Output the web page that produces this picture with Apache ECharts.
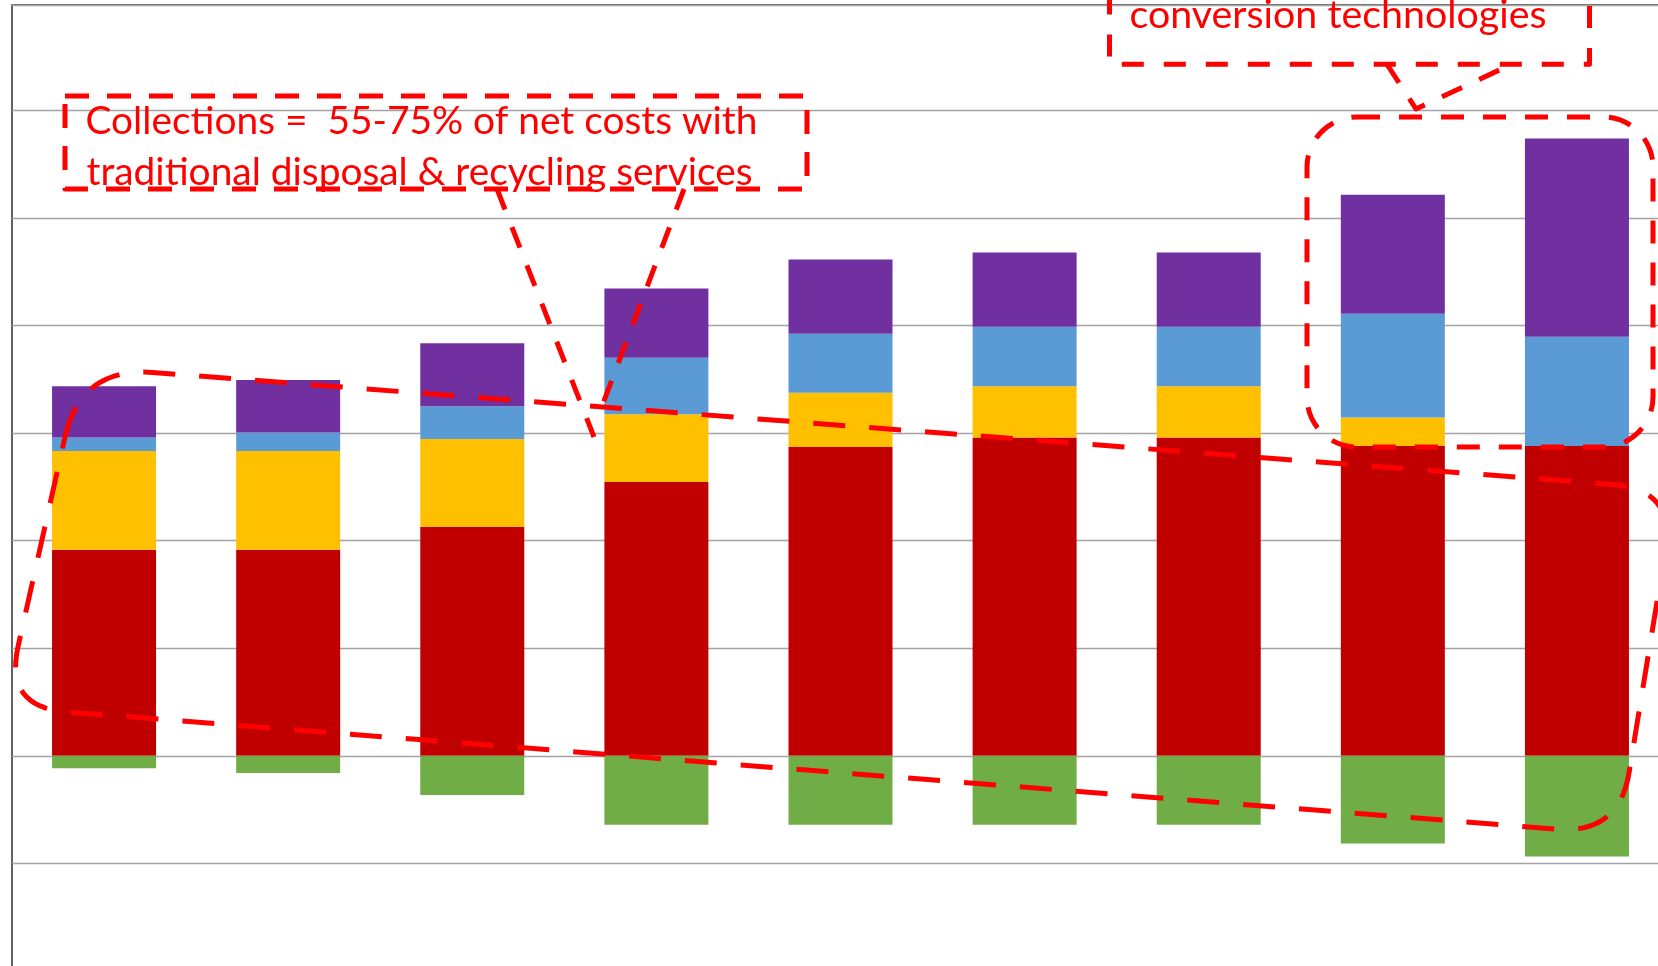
<!DOCTYPE html>
<html>
<head>
<meta charset="utf-8">
<script src="https://cdn.jsdelivr.net/npm/echarts@6/dist/echarts.min.js"></script>
<style>
  html, body { margin: 0; padding: 0; background: #ffffff; overflow: hidden; }
  /* the plot runs past the right and bottom edges of the window */
  #chart { width: 1700px; height: 1000px; }
</style>
</head>
<body>
<div id="chart"></div>
<script>
// Net cost per ton by scenario, stacked by cost component
const categories = ['S1', 'S2', 'S3', 'S4', 'S5', 'S6', 'S7', 'S8', 'S9'];
const collection = [38.3, 38.3, 42.6, 50.9, 57.4, 59.2, 59.2, 57.6, 57.6];
const disposal   = [18.4, 18.4, 16.3, 12.6, 10.1, 9.5, 9.5, 5.3, 0];
const processing = [2.5, 3.4, 6.1, 10.5, 11.0, 11.1, 11.1, 19.3, 20.3];
const conversion = [9.5, 9.8, 11.7, 12.9, 13.8, 13.8, 13.8, 22.1, 36.9];
const revenue    = [-2.3, -3.2, -7.3, -12.8, -12.8, -12.8, -12.8, -16.3, -18.7];

const noteCollections = ['Collections =  55-75% of net costs with',
                         'traditional disposal & recycling services'];
const noteConversion = 'conversion technologies';

const RED = '#ff0000';
const FONT_FAMILY = 'Lato';

// size a font so a line of text spans the given width
const measureCtx = document.createElement('canvas').getContext('2d');
function fitSize(text, width) {
  measureCtx.font = '100px ' + FONT_FAMILY;
  return 100 * width / measureCtx.measureText(text).width;
}
// distance from the em middle line to the alphabetic baseline
function middleOffset(size) {
  measureCtx.font = size + 'px ' + FONT_FAMILY;
  measureCtx.textBaseline = 'alphabetic';
  const m = measureCtx.measureText('Hg');
  if (m.fontBoundingBoxAscent !== undefined) {
    return (m.fontBoundingBoxAscent - m.fontBoundingBoxDescent) / 2;
  }
  return size * 0.37;
}

// outline made of straight runs joined by rounded corners;
// each corner is [cornerX, cornerY, radius]
function roundedOutline(corners) {
  const pts = [];
  const n = corners.length;
  for (let i = 0; i < n; i++) {
    const prev = corners[(i + n - 1) % n];
    const cur = corners[i];
    const next = corners[(i + 1) % n];
    const r = cur[2];
    const d1 = Math.hypot(prev[0] - cur[0], prev[1] - cur[1]);
    const d2 = Math.hypot(next[0] - cur[0], next[1] - cur[1]);
    const a = [cur[0] + (prev[0] - cur[0]) * r / d1, cur[1] + (prev[1] - cur[1]) * r / d1];
    const b = [cur[0] + (next[0] - cur[0]) * r / d2, cur[1] + (next[1] - cur[1]) * r / d2];
    const steps = 16;
    for (let s = 0; s <= steps; s++) {
      const t = s / steps, u = 1 - t;
      pts.push([
        u * u * a[0] + 2 * u * t * cur[0] + t * t * b[0],
        u * u * a[1] + 2 * u * t * cur[1] + t * t * b[1]
      ]);
    }
  }
  return pts;
}

const chart = echarts.init(document.getElementById('chart'), null, { renderer: 'canvas' });

function bar(name, data, color) {
  return {
    name: name,
    type: 'bar',
    stack: 'cost',
    data: data,
    barWidth: 104,
    itemStyle: { color: color },
    emphasis: { disabled: true }
  };
}

const sizeA = (fitSize(noteCollections[0], 663) + fitSize(noteCollections[1], 675)) / 2;
const sizeB = fitSize(noteConversion, 417);
const offA = middleOffset(sizeA);
const offB = middleOffset(sizeB);

const dashed = (dash) => ({
  stroke: RED,
  fill: null,
  lineWidth: 5,
  lineDash: dash,
  lineCap: 'butt',
  lineJoin: 'round'
});

function note(text, x, baseline, size, off) {
  return {
    type: 'text',
    z: 110,
    style: {
      text: text,
      x: x,
      y: baseline - off,
      fill: RED,
      font: size.toFixed(2) + 'px ' + FONT_FAMILY,
      align: 'left',
      verticalAlign: 'middle'
    }
  };
}

function stroke(points, dash) {
  return { type: 'polyline', z: 100, shape: { points: points }, style: dashed(dash) };
}

const bandOutline = roundedOutline([
  [80.7, 367, 72],
  [1675.4, 489.3, 62],
  [1619, 834, 62],
  [4.5, 707, 62]
]);

chart.setOption({
  animation: false,
  backgroundColor: '#ffffff',
  grid: {
    left: 12,
    top: 5,
    width: 1657,
    height: 966,
    show: true,
    borderColor: '#3c3c3c',
    borderWidth: 1.6,
    backgroundColor: 'transparent'
  },
  xAxis: {
    type: 'category',
    data: categories,
    axisLine: { show: false },
    axisTick: { show: false },
    axisLabel: { show: false },
    splitLine: { show: false }
  },
  yAxis: {
    type: 'value',
    min: -40,
    max: 139.6,
    interval: 20,
    axisLine: { show: false },
    axisTick: { show: false },
    axisLabel: { show: false },
    splitLine: { lineStyle: { color: '#a3a3a3', width: 1.4 } }
  },
  series: [
    bar('Collection', collection, '#c00000'),
    bar('Disposal', disposal, '#ffc000'),
    bar('Processing', processing, '#5b9bd5'),
    bar('Conversion', conversion, '#7030a0'),
    bar('Revenue', revenue, '#70ad47')
  ],
  graphic: [
    // callout box for collections
    { type: 'rect', z: 100, shape: { x: 65, y: 96, width: 742, height: 93 }, style: dashed([24, 18]) },
    note(noteCollections[0], 85.5, 136, sizeA, offA),
    note(noteCollections[1], 86.5, 187.5, sizeA, offA),
    // pointer from the collections box
    stroke([[497, 189], [594, 437]], [22, 19]),
    stroke([[684, 189], [599, 414]], [22, 19]),
    // band around the collection segments
    { type: 'polygon', z: 100, shape: { points: bandOutline }, style: dashed([32, 24]) },
    // callout box for conversion technologies
    { type: 'rect', z: 100, shape: { x: 1109.5, y: -60, width: 480, height: 124.3 }, style: dashed([22, 20]) },
    note(noteConversion, 1129.5, 30.5, sizeB, offB),
    stroke([[1387, 64.3], [1416, 109], [1510, 65]], [22, 19]),
    // outline around the last two scenarios
    { type: 'rect', z: 100, shape: { x: 1307, y: 117, width: 346, height: 330, r: 50 }, style: dashed([23, 19]) }
  ]
});
</script>
</body>
</html>
